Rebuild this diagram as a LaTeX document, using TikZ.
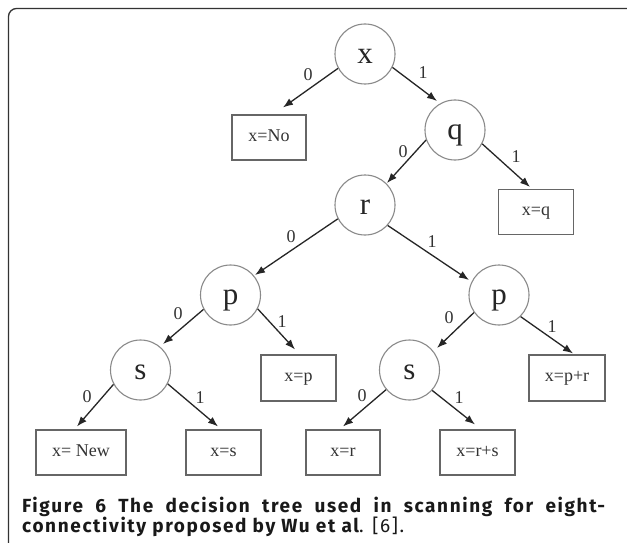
\documentclass[tikz,border=0pt]{standalone}
\usepackage{fontspec}
\setmainfont{Liberation Serif}
\newfontfamily\capfont[LetterSpace=8.5]{Fira Sans}
\usetikzlibrary{arrows.meta,calc}
\definecolor{circ}{HTML}{8A8A8A}
\definecolor{boxc}{HTML}{666666}
\definecolor{edgec}{HTML}{262626}
\definecolor{txt}{HTML}{333333}
\definecolor{framec}{HTML}{333333}
\begin{document}
\begin{tikzpicture}[x=1pt,y=-1pt,
  dec/.style={circle,draw=circ,line width=1.1pt,minimum size=60pt,inner sep=0pt,
    text height=19pt,text depth=0pt,font=\fontsize{31}{31}\selectfont,text=black!85},
  leaf/.style={rectangle,draw=boxc,line width=1.1pt,inner sep=0pt,minimum height=45pt,
    text height=7pt,text depth=0pt,font=\fontsize{18}{18}\selectfont,text=txt},
  arr/.style={draw=edgec,line width=1.3pt,-{Latex[length=10pt,width=7.5pt]}},
  lbl/.style={inner sep=0pt,font=\fontsize{18}{18}\selectfont,text=txt},
  capstyle/.style={anchor=base west,inner sep=0pt,text=black!90,
    font=\capfont\fontsize{19}{20}\selectfont},
]
\fill[white] (0,0) rectangle (627,543);
\useasboundingbox (0,0) rectangle (627,543);
\draw[line width=1.3pt,draw=framec,rounded corners=8pt] (8.5,560) -- (8.5,8.5) -- (640,8.5);

% decision nodes
\node[dec] (X)  at (365,54)    {x};
\node[dec] (Q)  at (455,130)   {q};
\node[dec] (R)  at (365,205)   {r};
\node[dec] (PL) at (230.5,295) {p};
\node[dec] (PR) at (499,295)   {p};
\node[dec] (SL) at (140.5,370) {s};
\node[dec] (SR) at (409.5,370) {s};

% leaves
\node[leaf,minimum width=74pt] (xNo) at (269,137.5) {x=No};
\node[leaf,minimum width=75pt] (xq)  at (536,212)   {x=q};
\node[leaf,minimum width=75pt,minimum height=46pt] (xp)  at (298.5,378) {x=p};
\node[leaf,minimum width=76pt,minimum height=46pt] (xpr) at (567,378)   {x=p+r};
\node[leaf,minimum width=90pt] (xNew) at (81,452.5)    {x= New};
\node[leaf,minimum width=75pt] (xs)   at (223.5,452.5) {x=s};
\node[leaf,minimum width=74pt] (xr)   at (343,452.5)   {x=r};
\node[leaf,minimum width=75pt] (xrs)  at (477.5,452.5) {x=r+s};

% connectors
\draw[arr] (X.208)  -- ($(xNo.north)+(14,-7)$);
\draw[arr] (X.334)  -- ($(Q)+(-18,-29)$);
\draw[arr] (Q.199)  -- ($(R)+(22,-22)$);
\draw[arr] (Q.333)  -- ($(xq.north)+(-6,-2)$);
\draw[arr] (R.207)  -- ($(PL)+(24.5,-20)$);
\draw[arr] (R.318)  -- ($(PR)+(-30,-15)$);
\draw[arr] (PL.208) -- ($(SL)+(22.5,-26)$);
\draw[arr] (PL.333) -- ($(xp.north)+(-3.5,-5)$);
\draw[arr] (PR.215) -- ($(SR)+(27.5,-22)$);
\draw[arr] (PR.315) -- ($(xpr.north)+(6,-1)$);
\draw[arr] (SL.208) -- ($(xNew.north)+(-4,-3)$);
\draw[arr] (SL.333) -- ($(xs.north)+(-5.5,-3)$);
\draw[arr] (SR.220) -- ($(xr.north)+(0,-3)$);
\draw[arr] (SR.318) -- ($(xrs.north)+(-2.5,-5)$);

% edge labels
\node[lbl] (l1)  at (308,75)  {0};
\node[lbl] (l2)  at (423,73)  {1};
\node[lbl] (l3)  at (403,152) {0};
\node[lbl] (l4)  at (516,157) {1};
\node[lbl] (l5)  at (291,237) {0};
\node[lbl] (l6)  at (432,242) {1};
\node[lbl] (l7)  at (178,314) {0};
\node[lbl] (l8)  at (282,322) {1};
\node[lbl] (l9)  at (449,318) {0};
\node[lbl] (l10) at (552,327) {1};
\node[lbl] (l11) at (87,397)  {0};
\node[lbl] (l12) at (200,398) {1};
\node[lbl] (l13) at (362,396) {0};
\node[lbl] (l14) at (459,398) {1};

% caption
\node[capstyle] (cap1) at (22,512)
  {\makebox[583pt][s]{\bfseries Figure 6 The decision tree used in scanning for eight-}};
\node[capstyle] (cap2) at (22,532)
  {{\bfseries connectivity proposed by Wu et al}. [6].};
\end{tikzpicture}
\end{document}
